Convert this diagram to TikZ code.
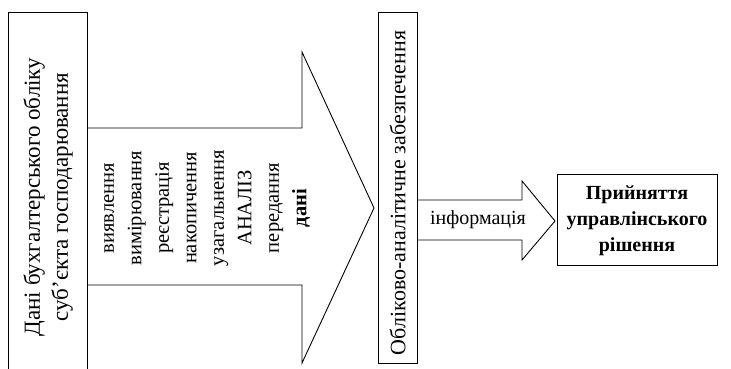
\documentclass[tikz,border=0pt]{standalone}
\usepackage{fontspec}
\setmainfont{Liberation Serif}
\begin{document}
\begin{tikzpicture}[x=1pt,y=-1pt,
  shapeline/.style={draw=black,line width=0.9pt,line join=miter},
  txt/.style={inner sep=0pt,align=center}]
\useasboundingbox (0,0) rectangle (731,368);
% coordinates
\coordinate (lbTL) at (8,12);
\coordinate (lbTR) at (87,12);
\coordinate (lbBL) at (8,370);
\coordinate (lbBR) at (87,370);
% left box (open at bottom)
\draw[shapeline] (lbBL) -- (lbTL) -- (lbTR) -- (lbBR);
% big arrow
\draw[shapeline] (87,128) -- (302,128) -- (302,52) -- (374,208) -- (302,363) -- (302,285) -- (87,285);
% middle box
\draw[shapeline] (378,12) rectangle (417,363);
% small arrow
\draw[shapeline] (417,200) -- (522,200) -- (522,181) -- (555,221) -- (522,260) -- (522,240) -- (417,240);
% right box
\draw[shapeline] (557,174) rectangle (717,265);
% texts
\node[txt,rotate=90,font=\fontsize{23}{28}\selectfont] (lefttext) at (48,197)
  {Дані бухгалтерського обліку\\суб’єкта господарювання};
\node[txt,rotate=90,font=\fontsize{20.5}{27.5}\selectfont] (shafttext) at (207,208)
  {виявлення\\вимірювання\\реєстрація\\накопичення\\узагальнення\\АНАЛІЗ\\передання\\\textbf{дані}};
\node[txt,rotate=90,font=\fontsize{22}{24}\selectfont] (midtext) at (397.5,193)
  {Обліково-аналітичне забезпечення};
\node[txt,font=\fontsize{20}{24}\selectfont] (info) at (478,220) {інформація};
\node[txt,font=\fontsize{20}{26}\selectfont\bfseries] (decision) at (637,221)
  {Прийняття\\управлінського\\рішення};
\end{tikzpicture}
\end{document}
